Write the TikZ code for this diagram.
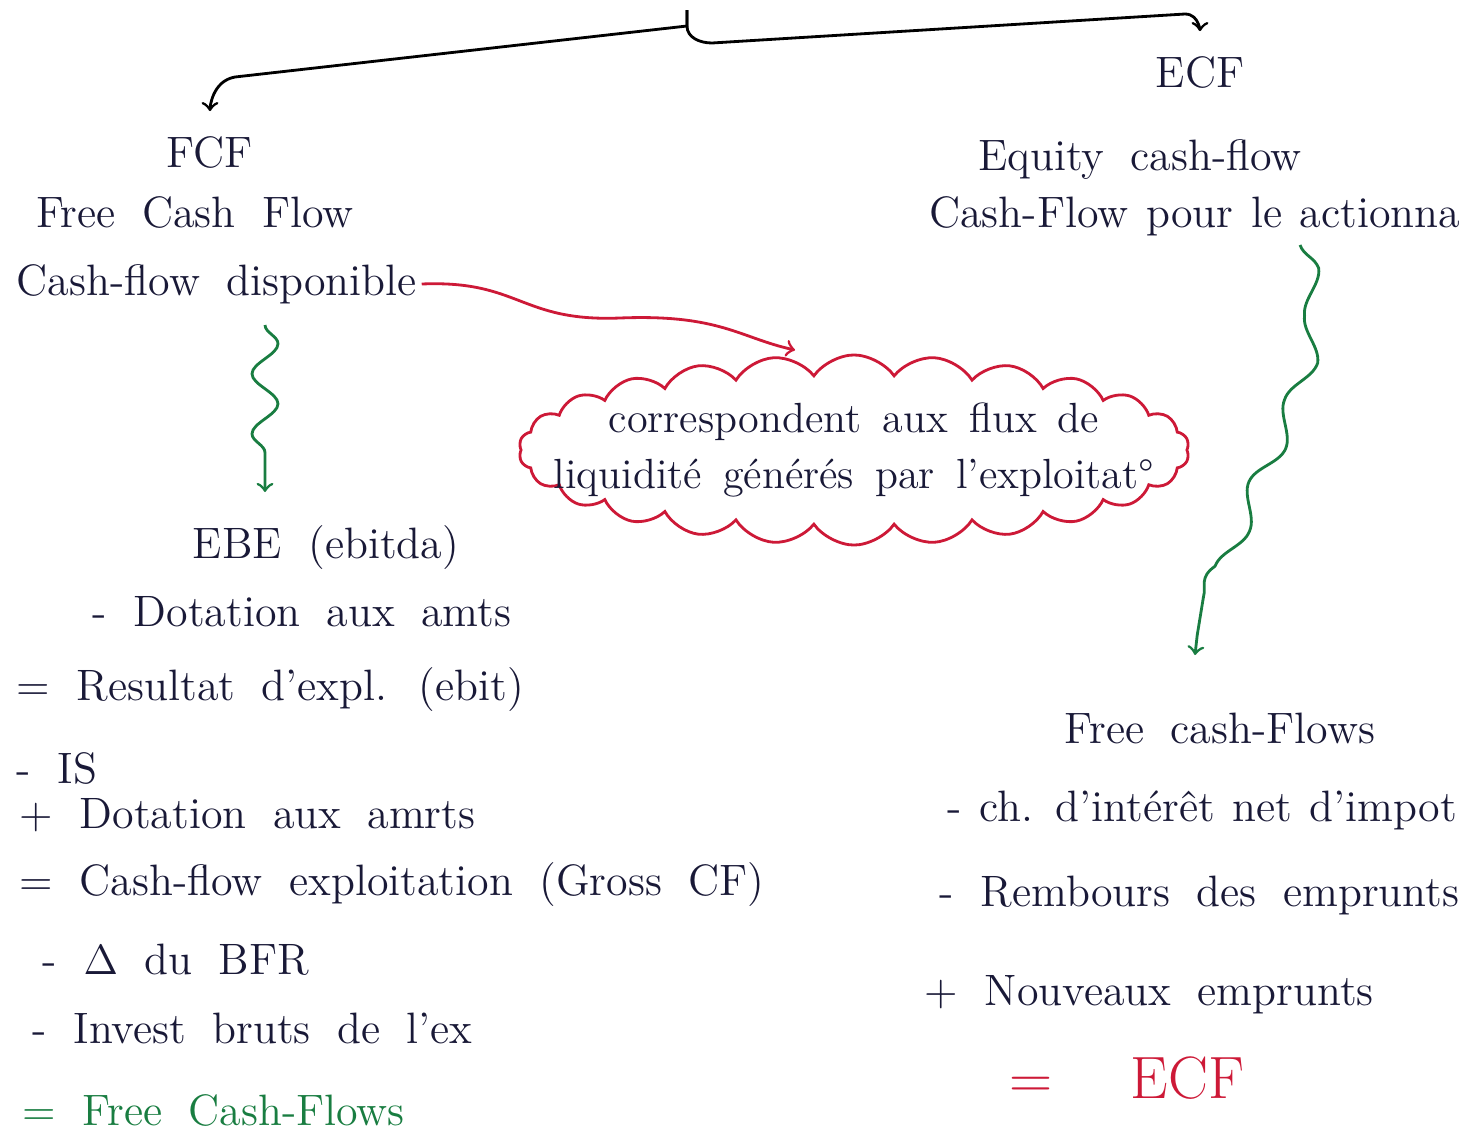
\documentclass[tikz,border=0pt]{standalone}
\usepackage{fontspec}
\usepackage{amsmath}
\usetikzlibrary{shapes.symbols,decorations.pathmorphing,positioning}
\definecolor{ink}{RGB}{25,25,55}
\definecolor{redink}{RGB}{205,25,55}
\definecolor{greenink}{RGB}{25,125,65}
\newcommand{\handfont}{\fontsize{12.5}{15}\selectfont\spaceskip 0.6em\relax}
\newcommand{\tightfont}{\fontsize{12.5}{15}\selectfont\spaceskip 0.4em\relax}
\begin{document}
\begin{tikzpicture}[x=0.01cm, y=-0.01cm, thick,
        txt/.style = {anchor=west, inner sep=1pt, text=ink, font=\handfont},
        head/.style = {txt, anchor=center},
        wavy/.style = {greenink, ->, decorate, decoration={snake, amplitude=1.3mm, segment length=6mm, post length=2mm}},
        bubble/.style = {draw=redink, cloud, cloud puffs=26, cloud puff arc=110, minimum width=6.7cm, minimum height=1.9cm}]
    \useasboundingbox (0,0) rectangle (1481,1142);
    % the two kinds of cash-flow
    \coordinate (top) at (687,10);
    \node[head] (fcf) at (210,152) {FCF};
    \node[head] (fcfname) at (195,212) {Free Cash Flow};
    \node[txt] (disp) at (12,284) {Cash-flow disponible};
    \node[head] (ecf) at (1200,72) {ECF};
    \node[head] (eqcf) at (1140,160) {Equity cash-flow};
    \node[txt, anchor=east, font=\tightfont] (pour) at (1465,216) {Cash-Flow pour le actionna};
    \draw[->, shorten >=2mm] (top) -- ++(0,16) -- (235,77) to[out=190,in=90] (fcf.north);
    \draw[->, shorten >=2mm] (top) -- ++(0,16) to[out=-90,in=180] (712,43) -- (1185,14) to[out=0,in=90] (ecf.north);
    % the cloud
    \node[bubble] (bub) at (854,450) {};
    \node[txt, anchor=center, align=center, font={\fontsize{12}{16}\selectfont\spaceskip 0.5em\relax}] (bubtxt) at (bub.center) {correspondent aux flux de\\ liquidité générés par l'exploitat°};
    \coordinate (tip) at (795,350);
    \draw[redink, ->] (disp.east) .. controls (520,280) and (520,322) .. (620,318) .. controls (720,314) and (740,338) .. (tip);
    % FCF column
    \coordinate (w1) at (265,325);
    \coordinate (w2) at (265,492);
    \draw[wavy] (w1) -- (w2);
    \node[txt] (ebe) at (188,548) {EBE (ebitda)};
    \node[txt] (dot1) at (88,612) {- Dotation aux amts};
    \node[txt] (res) at (12,690) {= Resultat d'expl. (ebit)};
    \node[txt] (is) at (12,768) {- IS};
    \node[txt] (dot2) at (15,815) {+ Dotation aux amrts};
    \node[txt] (cfe) at (15,885) {= Cash-flow exploitation (Gross CF)};
    \node[txt] (bfr) at (38,960) {- $\Delta$ du BFR};
    \node[txt] (inv) at (28,1028) {- Invest bruts de l'ex};
    \node[txt, text=greenink] (fcfl) at (18,1110) {= Free Cash-Flows};
    % ECF column
    \coordinate (w3) at (1300,245);
    \coordinate (w4) at (1195,655);
    \draw[wavy, decoration={amplitude=1mm, segment length=9mm}] (w3) .. controls (1340,360) and (1210,480) .. (w4);
    \node[txt] (fcfr) at (1060,728) {Free cash-Flows};
    \node[txt, anchor=east, font=\tightfont] (chi) at (1462,810) {- ch. d'intérêt net d'impot};
    \node[txt] (remb) at (935,895) {- Rembours des emprunts};
    \node[txt] (nouv) at (920,995) {+ Nouveaux emprunts};
    \node[txt, text=redink, font={\fontsize{17}{20}\selectfont}] (ecfr) at (1005,1078) {= \quad ECF};
\end{tikzpicture}
\end{document}
